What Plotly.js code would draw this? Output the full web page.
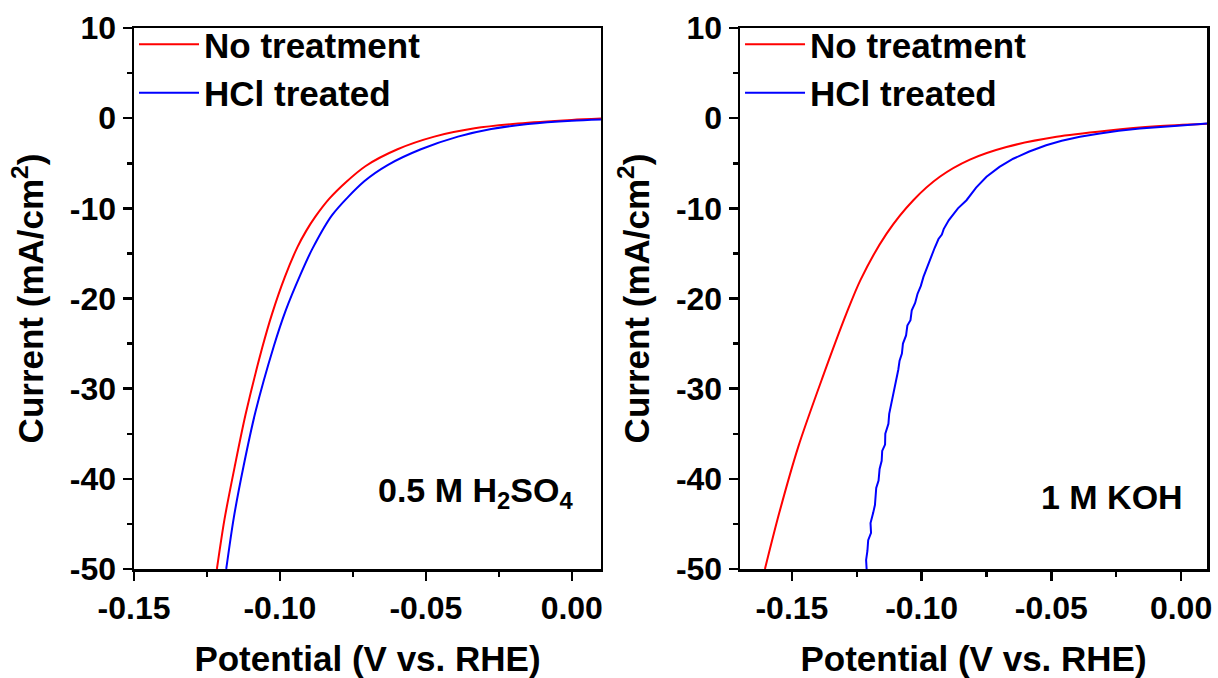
<!DOCTYPE html>
<html>
<head>
<meta charset="utf-8">
<script src="https://cdn.plot.ly/plotly-3.0.1.min.js"></script>
<style>html,body{margin:0;padding:0;background:#fff;}#chart{width:1218px;height:678px;}</style>
</head>
<body>
<div id="chart"></div>
<script>
// ---- Data ----
// Panel 1: 0.5 M H2SO4
const h2so4NoTreatV = [-0.1216,-0.1190,-0.1154,-0.1118,-0.1061,-0.1027,-0.0983,-0.0940,-0.0910,-0.0878,-0.0830,-0.0774,-0.0706,-0.0597,-0.0471,-0.0333,-0.0184,0.0000,0.0100];
const h2so4NoTreatI = [-50.0,-44.5,-38.5,-32.9,-25.5,-21.7,-17.6,-14.3,-12.5,-10.9,-8.9,-7.1,-5.3,-3.45,-2.05,-1.13,-0.60,-0.20,-0.05];
const h2so4HClV = [-0.1184,-0.1158,-0.1124,-0.1084,-0.1021,-0.0981,-0.0929,-0.0889,-0.0820,-0.0711,-0.0631,-0.0517,-0.0390,-0.0276,-0.0150,0.0000,0.0100];
const h2so4HClI = [-50.0,-44.3,-38.5,-32.6,-25.3,-21.4,-17.3,-14.5,-10.7,-7.0,-5.2,-3.45,-2.05,-1.20,-0.65,-0.28,-0.15];

// Panel 2: 1 M KOH
const kohNoTreatV = [-0.1604,-0.1549,-0.1475,-0.1385,-0.1289,-0.1235,-0.1135,-0.1032,-0.0930,-0.0814,-0.0673,-0.0480,-0.0287,-0.0095,0.0100];
const kohNoTreatI = [-50.0,-43.8,-36.4,-29.0,-21.6,-17.9,-12.8,-9.1,-6.5,-4.6,-3.2,-2.07,-1.40,-0.90,-0.62];
const kohHClV = [-0.1212,-0.1214,-0.1209,-0.1206,-0.1195,-0.1197,-0.1187,-0.1180,-0.1175,-0.1166,-0.1162,-0.1154,-0.1152,-0.1141,-0.1140,-0.1128,-0.1125,-0.1117,-0.1112,-0.1104,-0.1100,-0.1090,-0.1085,-0.1076,-0.1072,-0.1060,-0.1055,-0.1043,-0.1038,-0.1025,-0.1016,-0.1003,-0.0993,-0.0980,-0.0966,-0.0950,-0.0935,-0.0922,-0.0915,-0.0895,-0.0860,-0.0827,-0.0790,-0.0750,-0.0700,-0.0647,-0.0585,-0.0520,-0.0460,-0.0390,-0.0313,-0.0240,-0.0159,-0.0080,0.0000,0.0100];
const kohHClI = [-50.0,-49.0,-48.0,-46.8,-46.0,-44.9,-43.8,-42.9,-41.0,-40.2,-38.9,-38.0,-36.9,-36.2,-35.0,-33.9,-32.8,-31.7,-30.8,-29.8,-29.0,-27.9,-26.9,-26.1,-25.0,-24.1,-23.0,-22.4,-21.3,-20.5,-19.5,-18.6,-17.6,-16.6,-15.5,-14.4,-13.4,-12.9,-12.3,-11.3,-10.0,-9.1,-7.7,-6.5,-5.4,-4.5,-3.7,-3.0,-2.5,-2.05,-1.70,-1.40,-1.15,-0.95,-0.80,-0.60];

// Labels
const seriesNames = ['No treatment', 'HCl treated'];
const panelLabels = ['0.5 M H<sub>2</sub>SO<sub>4</sub>', '1 M KOH'];
const xTickVals = [-0.15, -0.10, -0.05, 0.00];
const xTickText = ['-0.15', '-0.10', '-0.05', '0.00'];
const xMinorVals = [-0.125, -0.075, -0.025];
const yTickVals = [10, 0, -10, -20, -30, -40, -50];
const yTickText = ['10', '0', '-10', '-20', '-30', '-40', '-50'];
const yMinorVals = [5, -5, -15, -25, -35, -45];
const xTitle = 'Potential (V vs. RHE)';
const yTitle = 'Current (mA/cm<sup>2</sup>)';

// ---- Styles ----
const FONT = 'Liberation Sans, Arial, Helvetica, sans-serif';
const RED = '#ff0000', BLUE = '#0000ff';

const traces = [
  {x: h2so4NoTreatV, y: h2so4NoTreatI, name: seriesNames[0], mode: 'lines', line: {color: RED, width: 2, shape: 'spline', smoothing: 0.8}, xaxis: 'x', yaxis: 'y', legend: 'legend'},
  {x: h2so4HClV, y: h2so4HClI, name: seriesNames[1], mode: 'lines', line: {color: BLUE, width: 2, shape: 'spline', smoothing: 0.8}, xaxis: 'x', yaxis: 'y', legend: 'legend'},
  {x: kohNoTreatV, y: kohNoTreatI, name: seriesNames[0], mode: 'lines', line: {color: RED, width: 2, shape: 'spline', smoothing: 0.8}, xaxis: 'x2', yaxis: 'y2', legend: 'legend2'},
  {x: kohHClV, y: kohHClI, name: seriesNames[1], mode: 'lines', line: {color: BLUE, width: 2}, xaxis: 'x2', yaxis: 'y2', legend: 'legend2'}
];

function xAxis(domain, range, anchor) {
  return {
    domain: domain, range: range, anchor: anchor,
    tickmode: 'array', tickvals: xTickVals, ticktext: xTickText,
    ticks: 'outside', ticklen: 9, tickwidth: 2.5, tickcolor: '#000',
    minor: {tickmode: 'array', tickvals: xMinorVals, ticks: 'outside', ticklen: 5, tickwidth: 2.5, tickcolor: '#000', showgrid: false},
    showline: true, linewidth: 2.5, linecolor: '#000', mirror: true,
    showgrid: false, zeroline: false,
    tickfont: {family: FONT, size: 32, color: '#000', weight: 'bold'},
    title: {text: xTitle, font: {family: FONT, size: 35, color: '#000', weight: 'bold'}, standoff: 22},
    automargin: false
  };
}
function yAxis(anchor) {
  return {
    domain: [0, 1], range: [-50, 10], anchor: anchor,
    tickmode: 'array', tickvals: yTickVals, ticktext: yTickText,
    ticks: 'outside', ticklen: 9, tickwidth: 2.5, tickcolor: '#000',
    minor: {tickmode: 'array', tickvals: yMinorVals, ticks: 'outside', ticklen: 5, tickwidth: 2.5, tickcolor: '#000', showgrid: false},
    showline: true, linewidth: 2.5, linecolor: '#000', mirror: true,
    showgrid: false, zeroline: false,
    tickfont: {family: FONT, size: 32, color: '#000', weight: 'bold'},
    title: {text: yTitle, font: {family: FONT, size: 35, color: '#000', weight: 'bold'}, standoff: 16},
    automargin: false
  };
}

const legendStyle = (x) => ({
  x: x, y: 1.024, xanchor: 'left', yanchor: 'top', xref: 'paper', yref: 'paper',
  bgcolor: 'rgba(0,0,0,0)', borderwidth: 0, itemwidth: 60,
  font: {family: FONT, size: 35, color: '#000', weight: 'bold'},
  tracegroupgap: 0
});

const layout = {
  width: 1218, height: 678,
  margin: {l: 134, r: 11, t: 28, b: 109},
  paper_bgcolor: '#fff', plot_bgcolor: '#fff',
  showlegend: true,
  xaxis: xAxis([0, 0.4352], [-0.15, 0.01], 'y'),
  yaxis: yAxis('x'),
  xaxis2: xAxis([0.5648, 1], [-0.17, 0.01], 'y2'),
  yaxis2: yAxis('x2'),
  legend: legendStyle(0),
  legend2: legendStyle(0.5648),
  annotations: [
    {text: panelLabels[0], xref: 'x domain', yref: 'y domain', x: 0.944, y: 0.142, xanchor: 'right', yanchor: 'middle', showarrow: false,
     font: {family: FONT, size: 34, color: '#000', weight: 'bold'}},
    {text: panelLabels[1], xref: 'x2 domain', yref: 'y2 domain', x: 0.953, y: 0.133, xanchor: 'right', yanchor: 'middle', showarrow: false,
     font: {family: FONT, size: 34, color: '#000', weight: 'bold'}}
  ]
};

Plotly.newPlot('chart', traces, layout, {displayModeBar: false, staticPlot: true});
</script>
</body>
</html>
